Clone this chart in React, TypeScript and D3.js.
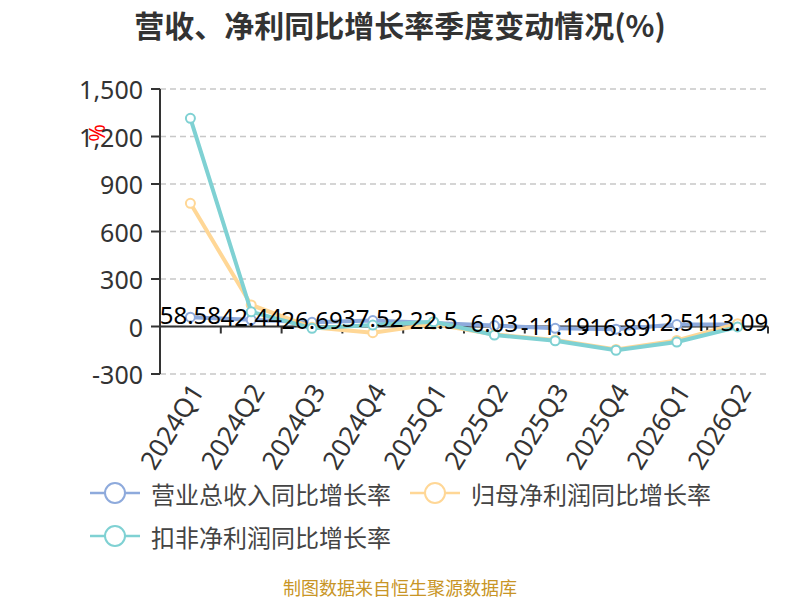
import React from 'react';
import * as d3 from 'd3';

const categories = ['2024Q1', '2024Q2', '2024Q3', '2024Q4', '2025Q1', '2025Q2', '2025Q3', '2025Q4', '2026Q1', '2026Q2'];
const revenueYoY = [58.58, 42.44, 26.69, 37.52, 22.5, 6.03, -11.19, -16.89, 12.51, 13.09];
const netProfitYoY = [778, 136, -5, -39, 15, -50, -85, -145, -88, 18];
const deductedYoY = [1315, 93, -11, 9, 30, -54, -90, -150, -98, -3];
const yTicks = [-300, 0, 300, 600, 900, 1200, 1500];
const seriesNames = ['营业总收入同比增长率', '归母净利润同比增长率', '扣非净利润同比增长率'];
const seriesColors = ['#8eaadc', '#ffd796', '#7fd1d3'];

const fmt = d3.formatLocale({ decimal: '.', thousands: ',', grouping: [3], currency: ['', ''], minus: '-' }).format(',');

const NUM_FONT = '"Noto Sans", "Noto Sans CJK SC", sans-serif';
const CJK_FONT = '"Noto Sans CJK SC", "Noto Sans", sans-serif';

export default function App() {
  const W = 800;
  const H = 600;
  const left = 160;
  const right = 768;
  const top = 89;
  const bottom = 374;

  const x = d3.scaleBand<string>().domain(categories).range([left, right]);
  const y = d3.scaleLinear().domain([-300, 1500]).range([bottom, top]);
  const cx = (i: number) => (x(categories[i]) as number) + x.bandwidth() / 2;
  const line = d3
    .line<number>()
    .x((_, i) => cx(i))
    .y((d) => y(d));

  const allSeries = [revenueYoY, netProfitYoY, deductedYoY];
  const y0 = y(0);
  const boundaries = categories.map((c) => x(c) as number).concat([right]);

  return (
    <svg width={W} height={H} style={{ position: 'absolute', left: 0, top: 0, background: '#fff' }}>
      <text x={400} y={24} textAnchor="middle" dominantBaseline="central" fontFamily={CJK_FONT} fontWeight="bold" fontSize={30} fill="#333">
        营收、净利同比增长率季度变动情况(%)
      </text>

      {/* y axis name */}
      <text x={97} y={133} textAnchor="middle" dominantBaseline="central" fontFamily={NUM_FONT} fontSize={21} fill="#ff0000" transform="rotate(90 97 133)">
        %
      </text>

      {/* grid lines */}
      {yTicks.map((t) => (
        <line key={'g' + t} x1={left} x2={right} y1={y(t)} y2={y(t)} stroke="#c8c8c8" strokeWidth={1.5} strokeDasharray="6,4" />
      ))}

      {/* y axis */}
      <line x1={left} x2={left} y1={top} y2={bottom} stroke="#333" strokeWidth={2} />
      {yTicks.map((t) => (
        <g key={'t' + t}>
          <line x1={left - 9} x2={left} y1={y(t)} y2={y(t)} stroke="#333" strokeWidth={2} />
          <text x={left - 17} y={y(t)} textAnchor="end" dominantBaseline="central" fontFamily={NUM_FONT} fontSize={25} fill="#333">
            {fmt(t)}
          </text>
        </g>
      ))}

      {/* x axis at zero */}
      <line x1={left} x2={right} y1={y0} y2={y0} stroke="#333" strokeWidth={2} />
      {boundaries.map((b, i) => (
        <line key={'xt' + i} x1={b} x2={b} y1={y0} y2={y0 + 7} stroke="#333" strokeWidth={2} />
      ))}
      {categories.map((c, i) => (
        <text
          key={'xl' + c}
          x={0}
          y={0}
          textAnchor="end"
          dominantBaseline="central"
          fontFamily={NUM_FONT}
          fontSize={26}
          fill="#333"
          transform={`translate(${cx(i) + 6},${bottom + 12}) rotate(-58)`}
        >
          {c}
        </text>
      ))}

      {/* series */}
      {allSeries.map((s, k) => (
        <g key={'s' + k}>
          <path d={line(s) as string} fill="none" stroke={seriesColors[k]} strokeWidth={4} strokeLinejoin="round" />
          {s.map((v, i) => (
            <circle key={i} cx={cx(i)} cy={y(v)} r={4.5} fill="#fff" stroke={seriesColors[k]} strokeWidth={2} />
          ))}
        </g>
      ))}

      {/* data labels for revenue */}
      {revenueYoY.map((v, i) => (
        <text key={'dl' + i} x={cx(i)} y={y(v) - 3} textAnchor="middle" dominantBaseline="central" fontFamily={NUM_FONT} fontSize={24} fill="#000">
          {String(v)}
        </text>
      ))}

      {/* legend */}
      {seriesNames.map((n, k) => {
        const lx = k === 1 ? 410 : 90;
        const ly = k === 2 ? 536 : 493;
        return (
          <g key={'lg' + k}>
            <line x1={lx} x2={lx + 50} y1={ly} y2={ly} stroke={seriesColors[k]} strokeWidth={2.5} />
            <circle cx={lx + 25} cy={ly} r={10} fill="#fff" stroke={seriesColors[k]} strokeWidth={2} />
            <text x={lx + 61} y={ly} dominantBaseline="central" fontFamily={CJK_FONT} fontSize={24} fill="#444">
              {n}
            </text>
          </g>
        );
      })}

      <text x={400} y={587} textAnchor="middle" dominantBaseline="central" fontFamily={CJK_FONT} fontSize={18} fill="#c89526">
        制图数据来自恒生聚源数据库
      </text>
    </svg>
  );
}
